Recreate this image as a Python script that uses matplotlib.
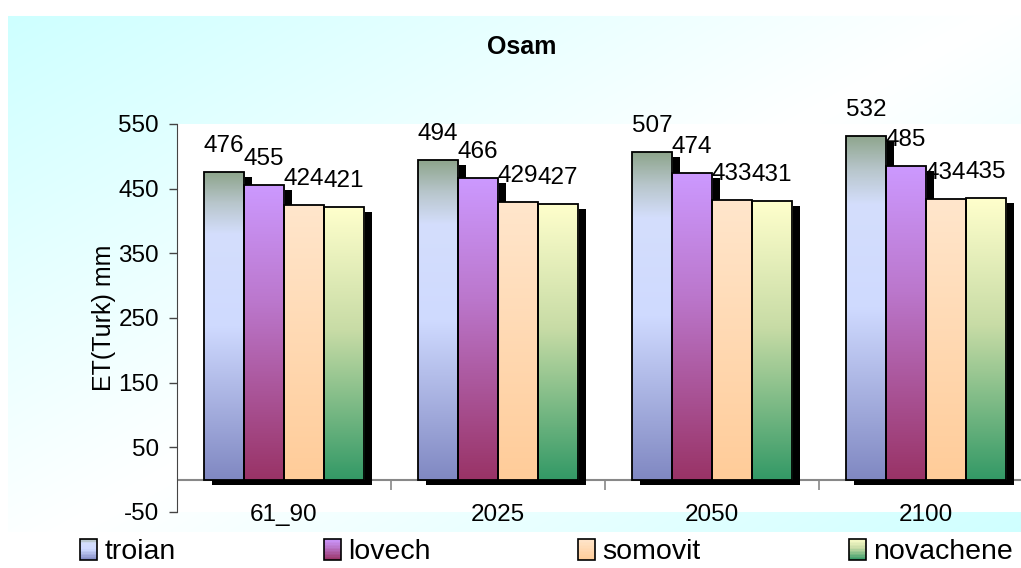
import numpy as np
import matplotlib
matplotlib.use('Agg')
import matplotlib.pyplot as plt
from matplotlib.colors import LinearSegmentedColormap
from matplotlib.patches import Rectangle, Patch
from matplotlib.legend_handler import HandlerBase
from matplotlib.transforms import ScaledTranslation
from matplotlib.markers import TICKDOWN

plt.rcParams['font.family'] = ['Liberation Sans', 'DejaVu Sans']
plt.rcParams['axes.unicode_minus'] = False

periods = ['61_90', '2025', '2050', '2100']
stations = ['troian', 'lovech', 'somovit', 'novachene']
troian = [476, 494, 507, 532]
lovech = [455, 466, 474, 485]
somovit = [424, 429, 433, 434]
novachene = [421, 427, 431, 435]
series = [troian, lovech, somovit, novachene]
yticks = [-50, 50, 150, 250, 350, 450, 550]

# gradients, bottom -> top
grads = [
    [(0.0, '#8088c2'), (0.5, '#cfdaff'), (0.8, '#d4defc'), (0.9, '#b8c6cc'), (1.0, '#8ea58c')],
    [(0.0, '#993366'), (0.6, '#bb77cc'), (1.0, '#cc99ff')],
    [(0.0, '#ffcc99'), (1.0, '#ffe6cc')],
    [(0.0, '#339966'), (0.55, '#c8dca6'), (1.0, '#ffffcc')],
]
cmaps = [LinearSegmentedColormap.from_list('g%d' % i, g) for i, g in enumerate(grads)]

W, H = 1021, 568
fig = plt.figure(figsize=(W / 100, H / 100), dpi=100)

# chart background: diagonal cyan-white-cyan gradient
bg = fig.add_axes([0, 0, 1, 1], zorder=-10)
bg.axis('off')
yy, xx = np.mgrid[0:H, 0:W]
s = np.abs(xx / W + yy / H - 1.0)
cyan = np.array([0.80, 1.0, 1.0])
img = np.ones((H, W, 3)) * (1 - s[..., None]) + cyan * s[..., None]
img[:16, :] = 1.0
img[:, :8] = 1.0
img[532:, :] = 1.0
bg.imshow(img, aspect='auto', extent=[0, 1, 0, 1], origin='upper')
bg.set_xlim(0, 1)
bg.set_ylim(0, 1)

ax = fig.add_axes([177 / W, 1 - 512 / H, 856 / W, 388 / H])
ax.set_facecolor('white')

n = len(stations)
bw = 0.187
x = np.arange(len(periods))
shadow = ax.transData + ScaledTranslation(8 / 100, -5 / 100, fig.dpi_scale_trans)
grad = np.linspace(0, 1, 256).reshape(-1, 1)

for k, vals in enumerate(series):
    pos = x + (k - (n - 1) / 2) * bw
    sh = ax.bar(pos, vals, bw, color='black', zorder=1)
    for b in sh:
        b.set_transform(shadow)
    bars = ax.bar(pos, vals, bw, facecolor='none', edgecolor='black', lw=1.3, zorder=3)
    for b, v in zip(bars, vals):
        x0 = b.get_x()
        ax.add_patch(Rectangle((x0, 0), b.get_width(), b.get_height(), facecolor='white',
                               edgecolor='none', zorder=1.5))
        im = ax.imshow(grad, cmap=cmaps[k], aspect='auto', origin='lower',
                       extent=[x0, x0 + b.get_width(), 0, b.get_height()], zorder=2)
        im.set_clip_path(b)
        ax.annotate(str(v), (b.get_x() + b.get_width() / 2, v), xytext=(0, 20),
                    textcoords='offset pixels', ha='center', va='baseline',
                    fontsize=17.5, annotation_clip=False)

ax.set_xlim(-0.5, len(periods) - 0.5)
ax.set_ylim(-50, 550)
ax.set_yticks(yticks)
ax.tick_params(axis='y', labelsize=17.5, length=6, width=1, color='#444444', pad=7)
ax.set_xticks(x)
ax.set_xticklabels(periods, fontsize=17.5)
ax.tick_params(axis='x', length=0, pad=-6)
for sp in ['top', 'right', 'bottom']:
    ax.spines[sp].set_visible(False)
ax.spines['left'].set_color('#444444')
ax.set_ylabel('ET(Turk) mm', fontsize=18, labelpad=2)

# category axis at zero with separators between groups
ax.axhline(0, color='#888888', lw=1.5, zorder=0.5)
ax.plot(x[:-1] + 0.5, np.zeros(len(x) - 1), ls='none', marker=TICKDOWN,
        ms=7, mew=1.2, color='#888888', zorder=0.5)

fig.text(522 / W, 1 - 47 / H, 'Osam', ha='center', va='center', fontsize=18, fontweight='bold')


class GradHandler(HandlerBase):
    def __init__(self, cmap):
        super().__init__()
        self.cmap = cmap

    def create_artists(self, legend, orig_handle, xdescent, ydescent, width, height, fontsize, trans):
        arts = []
        m = 14
        for i in range(m):
            c = self.cmap(1 - (i + 0.5) / m)
            arts.append(Rectangle((-xdescent, -ydescent + height * (m - 1 - i) / m), width, height / m,
                                  facecolor=c, edgecolor='none', transform=trans))
        arts.append(Rectangle((-xdescent, -ydescent), width, height, fill=False,
                              edgecolor='black', lw=1.2, transform=trans))
        return arts


handles = [Patch(label=s) for s in stations]
hmap = {h: GradHandler(c) for h, c in zip(handles, cmaps)}
fig.legend(handles=handles, labels=stations, handler_map=hmap, ncol=4, frameon=False,
           loc='center left', bbox_to_anchor=(80 / W, 1 - 552 / H), borderaxespad=0,
           borderpad=0, fontsize=20.5, handlelength=0.6, handleheight=0.75,
           handletextpad=0.25, columnspacing=5.2)

fig.savefig('out.png', dpi=100)
